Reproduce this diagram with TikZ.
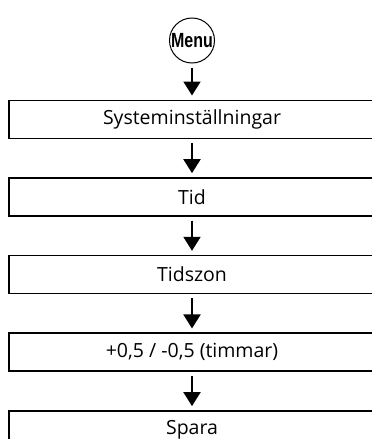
\documentclass[tikz,border=0pt]{standalone}
\usepackage{fontspec}
\setmainfont{Open Sans}
\newfontfamily\menufont[FakeStretch=0.78]{Liberation Sans}
\usetikzlibrary{positioning, arrows.meta}

\begin{document}
\begin{tikzpicture}[node distance=38.25pt,
    stepbox/.style={draw, rectangle, line width=1.4pt, minimum width=366pt,
        minimum height=38pt, inner sep=0pt, font=\fontsize{19.5}{21}\selectfont},
    menubtn/.style={draw, circle, line width=1pt, minimum size=45pt,
        inner sep=0pt, font=\menufont\bfseries\fontsize{20.5}{22}\selectfont},
    flow/.style={-{Triangle[length=14pt,width=17pt]}, line width=2pt,
        shorten <=4pt, shorten >=4pt}]
    \clip (0,0) rectangle (372pt,-439pt);

    \node[menubtn] (menu) at (192pt,-40.5pt) {Menu};
    \node[stepbox] (sys) [below=36pt of menu] {Systeminställningar};
    \node[stepbox] (tid) [below=of sys] {Tid};
    \node[stepbox] (zon) [below=of tid] {Tidszon};
    \node[stepbox] (tim) [below=of zon] {+0,5 / -0,5 (timmar)};
    \node[stepbox] (spara) [below=of tim] {Spara};

    \draw[flow] (menu) -- (sys);
    \draw[flow] (sys) -- (tid);
    \draw[flow] (tid) -- (zon);
    \draw[flow] (zon) -- (tim);
    \draw[flow] (tim) -- (spara);
\end{tikzpicture}
\end{document}
